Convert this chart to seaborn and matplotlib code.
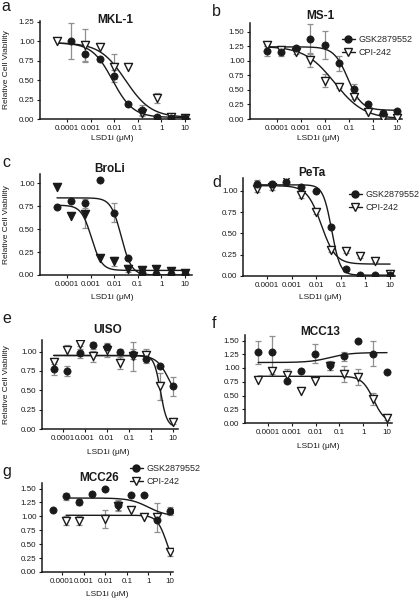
import numpy as np
import pandas as pd
import matplotlib
matplotlib.use("Agg")
import matplotlib.pyplot as plt
from matplotlib.lines import Line2D
import seaborn as sns

nan = np.nan

# ---------------- data ----------------
conc = [0.0000381, 0.000153, 0.000610, 0.00244, 0.00977, 0.0391, 0.156, 0.625, 2.5, 10.0]
xtick_values = [0.0001, 0.001, 0.01, 0.1, 1, 10]
xtick_labels = ["0.0001", "0.001", "0.01", "0.1", "1", "10"]
series = ["GSK2879552", "CPI-242"]
cell_lines = ["MKL-1", "MS-1", "BroLi", "PeTa", "UISO", "MCC13", "MCC26"]
panel_letters = ["a", "b", "c", "d", "e", "f", "g"]
x_label = "LSD1i (μM)"
y_label = "Relative Cell Viability"

# MKL-1
mkl1_gsk = [nan, 1.00, 0.84, 0.77, 0.55, 0.19, 0.11, 0.03, 0.01, 0.01]
mkl1_gsk_err = [0, 0.23, 0.11, 0.02, 0.08, 0.02, 0.07, 0.02, 0.02, 0.01]
mkl1_cpi = [1.00, nan, 0.95, 0.92, 0.67, 0.67, 0.08, 0.27, 0.02, 0.01]
mkl1_cpi_err = [0, 0, 0.21, 0, 0.16, 0, 0.03, 0.06, 0.02, 0]
# MS-1
ms1_gsk = [1.17, 1.15, 1.22, 1.38, 1.27, 0.96, 0.51, 0.25, 0.10, 0.14]
ms1_gsk_err = [0.08, 0.07, 0.03, 0.26, 0.24, 0.13, 0.10, 0.02, 0.03, 0.01]
ms1_cpi = [1.27, 1.18, 1.15, 1.02, 0.66, 0.55, 0.38, 0.12, 0.01, 0.01]
ms1_cpi_err = [0.02, 0.05, 0.03, 0.12, 0.11, 0.02, 0.04, 0.02, 0.01, 0.01]
# BroLi
broli_gsk = [0.745, 0.81, 0.78, 1.04, 0.68, 0.19, 0.02, 0.01, 0.01, 0.01]
broli_gsk_err = [0, 0, 0.05, 0, 0.10, 0, 0, 0, 0, 0]
broli_cpi = [0.96, 0.64, 0.66, 0.19, 0.15, 0.07, 0.05, 0.07, 0.04, 0.02]
broli_cpi_err = [0, 0, 0.15, 0, 0.05, 0.04, 0.03, 0.03, 0.03, 0.02]
# PeTa
peta_gsk = [1.08, 1.08, 1.10, 1.04, 1.00, 0.58, 0.08, 0.01, 0.01, 0.01]
peta_gsk_err = [0.05, 0.03, 0.03, 0.03, 0.02, 0.02, 0.02, 0.01, 0.01, 0.01]
peta_cpi = [1.02, 1.04, 1.14, 0.95, 0.75, 0.30, 0.29, 0.23, 0.18, 0.02]
peta_cpi_err = [0.03, 0.03, 0.02, 0.03, 0.02, 0.02, 0.02, 0.02, 0.02, 0.03]
# UISO
uiso_gsk = [0.78, 0.75, 0.98, 1.08, 1.06, 1.00, 0.97, 0.91, 0.81, 0.55]
uiso_gsk_err = [0.08, 0.07, 0.06, 0.05, 0.04, 0.03, 0.06, 0.06, 0.02, 0.12]
uiso_cpi = [0.87, 1.02, 1.10, 0.94, 1.02, 0.85, 0.94, 0.96, 0.55, 0.09]
uiso_cpi_err = [0.03, 0.07, 0.03, 0.07, 0.09, 0.08, 0.19, 0.07, 0.18, 0.03]
# MCC13
mcc13_gsk = [1.29, 1.29, 0.76, 0.95, 1.26, 1.05, 1.21, 1.49, 1.26, 0.93]
mcc13_gsk_err = [0.21, 0.29, 0.03, 0, 0.17, 0.08, 0.08, 0, 0.23, 0]
mcc13_cpi = [0.79, 0.95, 0.87, 0.58, 0.76, 1.03, 0.89, 0.84, 0.43, 0.09]
mcc13_cpi_err = [0, 0.05, 0.11, 0, 0, 0.07, 0.14, 0.14, 0.11, 0.03]
# MCC26
mcc26_gsk = [1.11, 1.36, 1.26, 1.40, 1.50, 1.20, 1.38, 1.38, 0.93, 1.10]
mcc26_gsk_err = [0, 0.06, 0.05, 0, 0, 0.09, 0, 0, 0, 0.07]
mcc26_cpi = [nan, 0.92, 0.92, nan, 0.95, 1.19, 1.11, 0.99, 0.98, 0.36]
mcc26_cpi_err = [0, 0.08, 0.08, 0, 0.16, 0.09, 0, 0, 0.26, 0.08]

# fitted dose-response curves: [level at low dose, level at high dose, EC50 (μM), Hill slope]
mkl1_gsk_fit = [0.98, 0.02, 0.0085, 1.0]
mkl1_cpi_fit = [0.98, 0.02, 0.03, 0.8]
ms1_gsk_fit = [1.24, 0.15, 0.09, 1.5]
ms1_cpi_fit = [1.25, 0.0, 0.025, 0.7]
broli_gsk_fit = [0.84, 0.0, 0.02, 2.0]
broli_cpi_fit = [0.76, 0.05, 0.0011, 2.0]
peta_gsk_fit = [1.07, 0.01, 0.042, 2.5]
peta_cpi_fit = [1.06, 0.14, 0.016, 1.5]
uiso_gsk_fit = [0.95, 0.30, 7.0, 1.5]
uiso_cpi_fit = [0.95, 0.03, 2.7, 3.0]
mcc13_gsk_fit = [1.10, 1.28, 0.04, 1.0]
mcc13_cpi_fit = [0.85, 0.0, 2.7, 1.8]
mcc26_gsk_fit = [1.33, 1.0, 1.0, 1.0]
mcc26_cpi_fit = [1.02, 0.0, 7.3, 1.9]

# ---------------- style ----------------
sns.set_theme(style="ticks")
plt.rcParams['font.family'] = ['Liberation Sans', 'DejaVu Sans']

W, H = 420, 600
fig = plt.figure(figsize=(W / 100, H / 100), dpi=100)


def fx(px):
    return px / W


def fy(py):
    return 1 - py / H


def logistic(x, p):
    low, high, ec50, hill = p
    return high + (low - high) / (1 + (x / ec50) ** hill)


layout = [
    # box (l, t, r, b) px, log10 xlim, ymax, ytick max, title (x, baseline), letter (x, baseline),
    # xlabel center, ylabel x, legend (x, top), curve start idx, filled triangles
    dict(box=(40, 21, 190, 119), xl=(-5.14, 1.21), ymax=1.26, ytop=1.25, title=(115, 23), letter=(1, 11),
         xlab=(112, 139), ylab=7, leg=None, start=0, filled=False),
    dict(box=(250, 23, 402, 119), xl=(-5.125, 1.21), ymax=1.65, ytop=1.5, title=(320, 19), letter=(212, 16),
         xlab=(318, 138), ylab=None, leg=(342, 35), start=0, filled=False),
    dict(box=(40, 174, 192, 275), xl=(-5.14, 1.3), ymax=1.1, ytop=1.0, title=(110, 172), letter=(2, 167),
         xlab=(112, 298), ylab=7, leg=None, start=0, filled=True),
    dict(box=(243, 178, 395, 276), xl=(-4.98, 1.2), ymax=1.15, ytop=1.0, title=(312, 176), letter=(212, 187),
         xlab=(320, 298), ylab=None, leg=(349, 190), start=0, filled=False),
    dict(box=(42, 340, 178, 429), xl=(-4.95, 1.23), ymax=1.15, ytop=1.0, title=(108, 333), letter=(2, 323),
         xlab=(108, 452), ylab=7, leg=None, start=0, filled=False),
    dict(box=(245, 335, 392, 423), xl=(-4.97, 1.21), ymax=1.6, ytop=1.5, title=(320, 335), letter=(212, 328),
         xlab=(318, 447), ylab=None, leg=None, start=0, filled=False),
    dict(box=(42, 483, 173, 572), xl=(-4.93, 1.14), ymax=1.6, ytop=1.5, title=(99, 481), letter=(2, 476),
         xlab=(107, 594), ylab=None, leg=(130, 464), start=1, filled=False),
]

panel_data = [
    (mkl1_gsk, mkl1_gsk_err, mkl1_cpi, mkl1_cpi_err, mkl1_gsk_fit, mkl1_cpi_fit),
    (ms1_gsk, ms1_gsk_err, ms1_cpi, ms1_cpi_err, ms1_gsk_fit, ms1_cpi_fit),
    (broli_gsk, broli_gsk_err, broli_cpi, broli_cpi_err, broli_gsk_fit, broli_cpi_fit),
    (peta_gsk, peta_gsk_err, peta_cpi, peta_cpi_err, peta_gsk_fit, peta_cpi_fit),
    (uiso_gsk, uiso_gsk_err, uiso_cpi, uiso_cpi_err, uiso_gsk_fit, uiso_cpi_fit),
    (mcc13_gsk, mcc13_gsk_err, mcc13_cpi, mcc13_cpi_err, mcc13_gsk_fit, mcc13_cpi_fit),
    (mcc26_gsk, mcc26_gsk_err, mcc26_cpi, mcc26_cpi_err, mcc26_gsk_fit, mcc26_cpi_fit),
]

err_color = "#8f8f8f"
ink = "#1a1a1a"

for name, letter, lay, pdata in zip(cell_lines, panel_letters, layout, panel_data):
    gsk, gsk_err, cpi, cpi_err, gsk_fit, cpi_fit = pdata
    l, t, r, b = lay["box"]
    ax = fig.add_axes([fx(l), fy(b), (r - l) / W, (b - t) / H])
    ax.set_xscale("log")

    c = np.array(conc)
    # error bars
    for vals, errs in ((gsk, gsk_err), (cpi, cpi_err)):
        v = np.array(vals, dtype=float)
        e = np.array(errs, dtype=float)
        m = (e > 0) & ~np.isnan(v)
        ax.errorbar(c[m], v[m], yerr=e[m], fmt="none", ecolor=err_color,
                    elinewidth=0.9, capsize=2.2, capthick=0.9, zorder=1)

    # fitted curves
    xs = np.logspace(np.log10(conc[lay["start"]]), np.log10(conc[-1]), 300)
    for fit in (gsk_fit, cpi_fit):
        curve = pd.DataFrame({"x": xs, "y": logistic(xs, fit)})
        sns.lineplot(data=curve, x="x", y="y", ax=ax, color=ink, linewidth=1.0,
                     zorder=2, estimator=None, sort=False)

    df = pd.DataFrame({"x": conc, "gsk": gsk, "cpi": cpi})
    tri_face = ink if lay["filled"] else "white"
    sns.scatterplot(data=df, x="x", y="cpi", ax=ax, marker="v", s=34,
                    color=tri_face, edgecolor=ink, linewidth=1.0, zorder=3)
    sns.scatterplot(data=df, x="x", y="gsk", ax=ax, marker="o", s=27,
                    color=ink, edgecolor=ink, linewidth=0.5, zorder=4)

    ax.set_xlim(10 ** lay["xl"][0], 10 ** lay["xl"][1])
    ax.set_ylim(0, lay["ymax"])
    ax.set_xticks(xtick_values)
    ax.set_xticklabels(xtick_labels)
    ax.minorticks_off()
    yt = np.arange(0, lay["ytop"] + 0.001, 0.25)
    ax.set_yticks(yt)
    ax.set_yticklabels([f"{v:.2f}" for v in yt])
    ax.set_xlabel("")
    ax.set_ylabel("")
    sns.despine(ax=ax)
    for s in ("left", "bottom"):
        ax.spines[s].set_linewidth(1.1)
        ax.spines[s].set_color(ink)
    ax.tick_params(axis="both", length=2.5, width=0.8, color=ink, labelsize=5.8,
                   pad=1.5, labelcolor=ink)
    ax.patch.set_alpha(0)

    fig.text(fx(lay["title"][0]), fy(lay["title"][1]), name, ha="center", va="baseline",
             fontsize=8.5, fontweight="bold", color=ink)
    fig.text(fx(lay["letter"][0]), fy(lay["letter"][1]), letter, ha="left", va="baseline",
             fontsize=11.5, color=ink)
    fig.text(fx(lay["xlab"][0]), fy(lay["xlab"][1]), x_label, ha="center", va="center",
             fontsize=6, color=ink)
    if lay["ylab"] is not None:
        fig.text(fx(lay["ylab"]), fy((t + b) / 2), y_label, rotation=90, ha="center",
                 va="center", fontsize=6, color=ink)
    if lay["leg"] is not None:
        handles = [
            Line2D([0], [0], color=ink, lw=1.0, marker="o", ms=5, mfc=ink, mec=ink),
            Line2D([0], [0], color=ink, lw=1.0, marker="v", ms=5.5, mfc="white", mec=ink, mew=1.0),
        ]
        ax.legend(handles, series, loc="upper left",
                  bbox_to_anchor=(fx(lay["leg"][0]), fy(lay["leg"][1])),
                  bbox_transform=fig.transFigure, frameon=False, fontsize=6.5,
                  handlelength=1.4, handletextpad=0.4, labelspacing=0.45,
                  borderpad=0, borderaxespad=0)

fig.savefig("out.png", dpi=100)
